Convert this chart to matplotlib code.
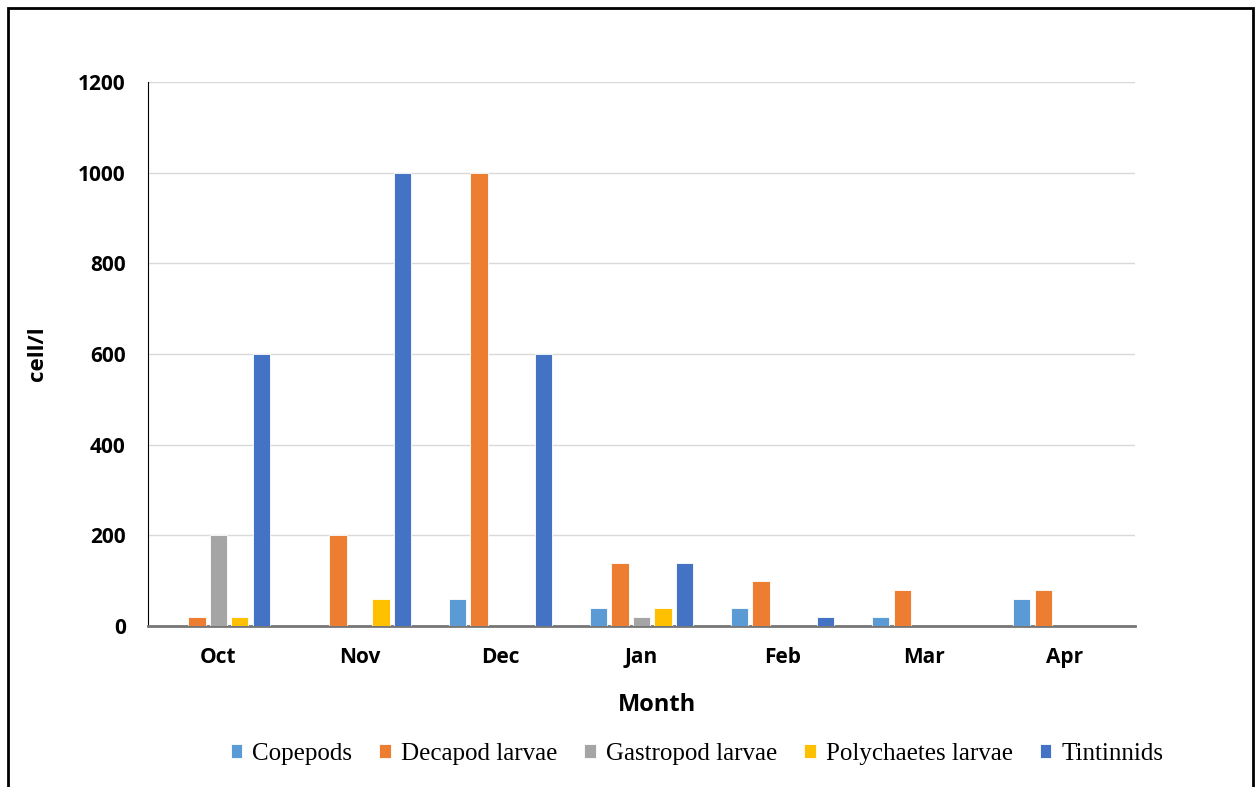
import numpy as np
import matplotlib.pyplot as plt
from matplotlib.patches import Rectangle

months = ['Oct', 'Nov', 'Dec', 'Jan', 'Feb', 'Mar', 'Apr']
copepods = [0, 0, 60, 40, 40, 20, 60]
decapod = [20, 200, 1000, 140, 100, 80, 80]
gastropod = [200, 0, 0, 20, 0, 0, 0]
polychaetes = [20, 60, 0, 40, 0, 0, 0]
tintinnids = [600, 1000, 600, 140, 20, 0, 0]

series = [copepods, decapod, gastropod, polychaetes, tintinnids]
names = ['Copepods', 'Decapod larvae', 'Gastropod larvae', 'Polychaetes larvae', 'Tintinnids']
colors = ['#5B9BD5', '#ED7D31', '#A5A5A5', '#FFC000', '#4472C4']

fig = plt.figure(figsize=(12.57, 7.87), dpi=100)
ax = fig.add_axes([0.1177, 0.2046, 0.7853, 0.6912])

x = np.arange(len(months))
pitch = 0.152
width = 0.122
for i, (vals, name, c) in enumerate(zip(series, names, colors)):
    ax.bar(x + (i - 2) * pitch, vals, width, color=c, label=name,
           edgecolor='white', linewidth=0.6, zorder=3)

ax.set_xlim(-0.5, len(months) - 0.5)
ax.set_ylim(0, 1200)
ax.set_yticks(range(0, 1201, 200))
ax.set_xticks(x)
ax.set_xticklabels(months)
ax.yaxis.grid(True, color='#D9D9D9', linewidth=1)
ax.set_axisbelow(True)
ax.tick_params(length=0, labelsize=15)
ax.tick_params(axis='y', pad=16)
ax.tick_params(axis='x', pad=15)
for lab in ax.get_xticklabels() + ax.get_yticklabels():
    lab.set_fontweight('bold')
    lab.set_family('Open Sans')

for s in ['top', 'right']:
    ax.spines[s].set_visible(False)
ax.spines['left'].set_color('black')
ax.spines['left'].set_linewidth(0.8)
ax.spines['bottom'].set_color('#767676')
ax.spines['bottom'].set_linewidth(2)

ax.set_xlabel('Month', fontsize=17, fontweight='bold', family='Open Sans', labelpad=18)
ax.xaxis.label.set_x(0.516)
ax.set_ylabel('cell/l', fontsize=16, fontweight='bold', family='Open Sans', labelpad=22)

leg = fig.legend(loc='center', bbox_to_anchor=(0.5545, 0.042), ncol=5, frameon=False,
                 prop={'family': 'Liberation Serif', 'size': 18},
                 handlelength=0.45, handleheight=0.45, handletextpad=0.4, columnspacing=1.1)

# outer frame
fig.patches.append(Rectangle((8 / 1257, -0.02), 1245 / 1257, 1 - 8 / 787 + 0.02,
                             transform=fig.transFigure, fill=False,
                             edgecolor='black', linewidth=2))

fig.savefig('out.png', dpi=100)
